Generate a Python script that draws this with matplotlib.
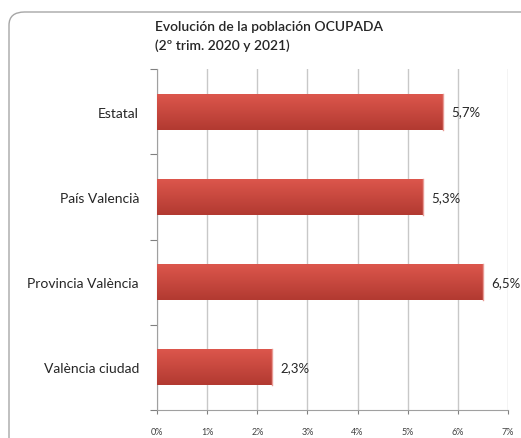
import numpy as np
import matplotlib
matplotlib.use("Agg")
import matplotlib.pyplot as plt
from matplotlib.patches import FancyBboxPatch

categories = ["Estatal", "País Valencià", "Provincia València", "València ciudad"]
values = [5.7, 5.3, 6.5, 2.3]
value_labels = ["5,7%", "5,3%", "6,5%", "2,3%"]
xticks = [0, 1, 2, 3, 4, 5, 6, 7]
xtick_labels = ["0%", "1%", "2%", "3%", "4%", "5%", "6%", "7%"]

plt.rcParams['font.family'] = ['Lato', 'DejaVu Sans']

fig = plt.figure(figsize=(5.21, 4.39), dpi=100)

# outer chart frame
frame = FancyBboxPatch((9 / 521, -0.05), 1.1, 1 - 13 / 439 + 0.05,
                       boxstyle="round,pad=0,rounding_size=0.03",
                       transform=fig.transFigure, fill=False,
                       edgecolor="#a6a6a6", linewidth=1.0)
fig.patches.append(frame)

fig.text(155 / 521, 1 - 27 / 439, "Evolución de la población OCUPADA",
         fontsize=10, fontweight="semibold", va="center", color="#262626")
fig.text(155 / 521, 1 - 46 / 439, "(2º trim. 2020 y 2021)",
         fontsize=10, fontweight="semibold", va="center", color="#262626")

ax = fig.add_axes([157 / 521, 1 - 411 / 439, (508 - 157) / 521, (411 - 70) / 439])

y = np.arange(len(categories))
bars = ax.barh(y, values, height=0.42, color="#c9453b", zorder=2)

# vertical gradient on each bar (light top, darker bottom)
grad = np.linspace(0, 1, 64).reshape(-1, 1)
cmap = matplotlib.colors.LinearSegmentedColormap.from_list("g", ["#dc564c", "#b23a31"])
for b in bars:
    x0, y0 = b.get_x(), b.get_y()
    w, h = b.get_width(), b.get_height()
    ax.imshow(grad, extent=(x0, x0 + w, y0 + h, y0), cmap=cmap, aspect="auto",
              zorder=3, interpolation="bicubic")
    ax.plot([x0 + w, x0 + w], [y0, y0 + h], color="#e89a94", lw=1, zorder=4)

for yi, v, lab in zip(y, values, value_labels):
    ax.text(v + 0.17, yi, lab, va="center", ha="left", fontsize=9.5, color="#262626")

ax.set_xlim(0, 7)
ax.set_ylim(len(categories) - 0.5, -0.5)
ax.set_xticks(xticks)
ax.set_xticklabels(xtick_labels, fontsize=6.5, color="#404040")
ax.set_yticks(y)
ax.set_yticklabels(categories, fontsize=10, color="#262626")
ax.set_yticks(np.arange(len(categories) + 1) - 0.5, minor=True)
ax.tick_params(axis="y", which="major", length=0, pad=13)
ax.tick_params(axis="y", which="minor", length=5, color="#808080", width=0.8)
ax.tick_params(axis="x", length=3, color="#808080", width=0.8, pad=9)

ax.grid(axis="x", color="#c8c8c8", linewidth=1, zorder=0)
ax.set_axisbelow(True)
for s in ["top", "right"]:
    ax.spines[s].set_visible(False)
ax.spines["left"].set_color("#a0a0a0")
ax.spines["bottom"].set_color("#a0a0a0")

fig.savefig("out.png", dpi=100)
